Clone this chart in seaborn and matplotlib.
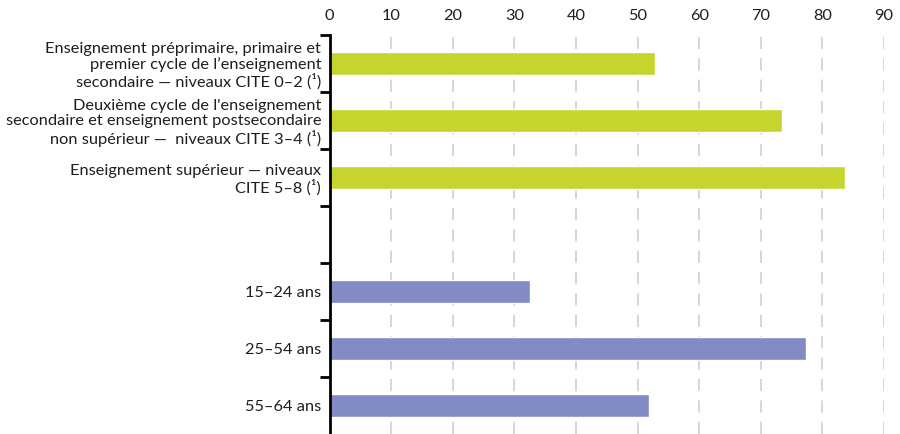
import matplotlib
matplotlib.use("Agg")
import matplotlib.pyplot as plt
import seaborn as sns
import numpy as np
import pandas as pd

# Category labels (blank entry separates the two groups)
categories = [
    "Enseignement préprimaire, primaire et\npremier cycle de l’enseignement\nsecondaire — niveaux CITE 0–2 (¹)",
    "Deuxième cycle de l'enseignement\nsecondaire et enseignement postsecondaire\nnon supérieur —  niveaux CITE 3–4 (¹)",
    "Enseignement supérieur — niveaux\nCITE 5–8 (¹)",
    " ",
    "15–24 ans",
    "25–54 ans",
    "55–64 ans",
]
values = [52.8, 73.5, 83.6, np.nan, 32.5, 77.4, 51.8]
groups = ["education", "education", "education", "gap", "age", "age", "age"]
x_ticks = [0, 10, 20, 30, 40, 50, 60, 70, 80, 90]

GREEN = "#c5d52e"
BLUE = "#828bc3"
palette = {"education": GREEN, "gap": "white", "age": BLUE}

df = pd.DataFrame({"category": categories, "value": values, "group": groups})

sns.set_style("white")
plt.rcParams["font.family"] = ["Lato", "DejaVu Sans"]

fig = plt.figure(figsize=(9, 4.34), dpi=100)
ax = fig.add_axes([329.5 / 900, 0.0, (884 - 329.5) / 900, 1 - 35 / 434])

sns.barplot(data=df, y="category", x="value", hue="group", palette=palette,
            order=categories, orient="h", width=0.4, dodge=False,
            legend=False, ax=ax, saturation=1)

ax.set_xlim(0, 90)
ax.set_ylim(len(categories) - 0.5, -0.5)
ax.set_xlabel("")
ax.set_ylabel("")

# value axis on top
ax.xaxis.tick_top()
ax.set_xticks(x_ticks)
ax.set_xticklabels([str(t) for t in x_ticks])
ax.tick_params(axis="x", length=0, pad=9, labelsize=11.8, colors="#1e1e1e")

# category labels, bracket ticks between categories
ax.tick_params(axis="y", which="major", length=0, pad=6, labelsize=11.8,
               colors="#1e1e1e")
for lbl in ax.get_yticklabels():
    lbl.set_multialignment("right")
    lbl.set_linespacing(1.12)
ax.set_yticks(np.arange(-0.5, len(categories) - 0.5, 1.0), minor=True)
ax.tick_params(axis="y", which="minor", left=True, length=7, width=2,
               color="black", direction="out")

ax.grid(False)
for xv in x_ticks[1:]:
    ax.axvline(xv, color="#cccccc", lw=1.1, ls=(0, (8, 6)), zorder=0)

for side in ["top", "right", "bottom"]:
    ax.spines[side].set_visible(False)
ax.spines["left"].set_color("black")
ax.spines["left"].set_linewidth(2)

fig.savefig("out.png", dpi=100)
